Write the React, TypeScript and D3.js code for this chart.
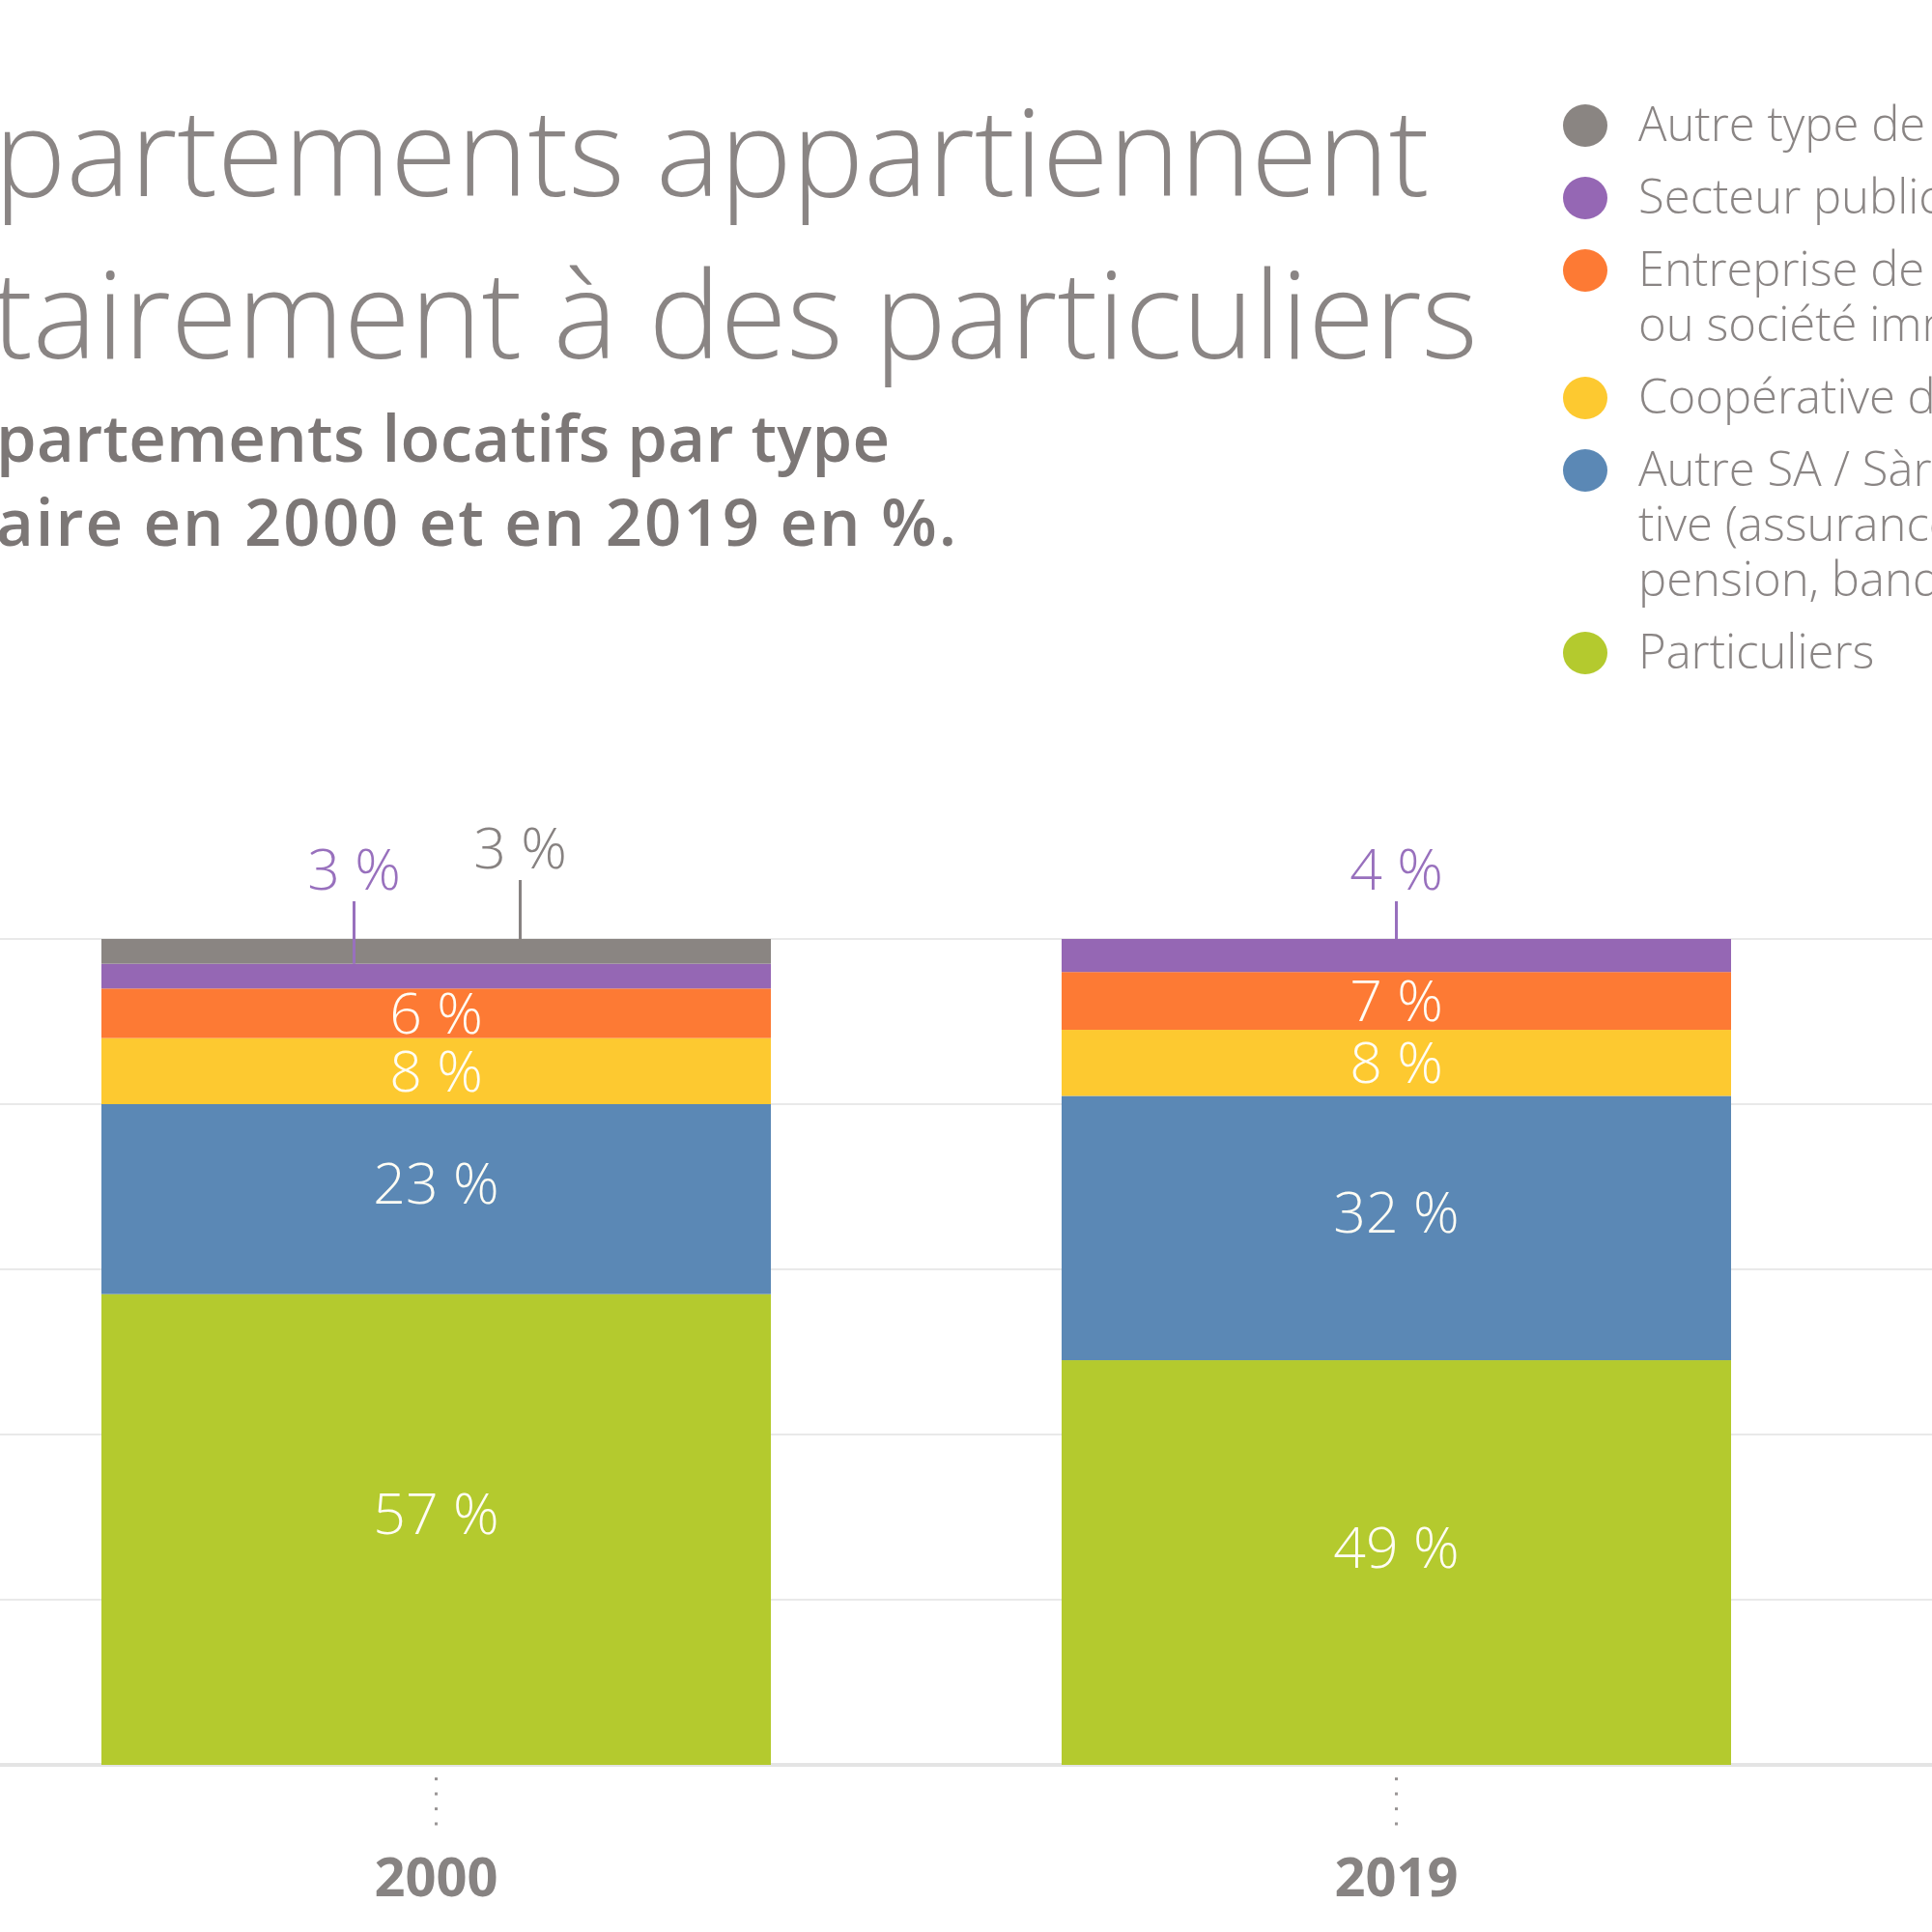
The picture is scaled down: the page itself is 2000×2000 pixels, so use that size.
import * as d3 from 'd3';

// Données (en %), de bas en haut de la pile
const years = ['2000', '2019'];
const particuliers = [57, 49];
const autreSA = [23, 32];
const cooperative = [8, 8];
const entreprise = [6, 7];
const secteurPublic = [3, 4];
const autreType = [3, 0];

const seriesKeys = ['particuliers', 'autreSA', 'cooperative', 'entreprise', 'secteurPublic', 'autreType'];
const seriesColors = ['#b4ca2e', '#5b88b5', '#fdc930', '#fd7a34', '#9567b4', '#8a8582'];
const yTicks = [0, 20, 40, 60, 80, 100];

const titleLines = ['partements appartiennent', 'tairement à des particuliers'];
const subtitleLines = ['partements locatifs par type', 'aire en 2000 et en 2019 en %.'];

const legendItems: { key: string; lines: string[] }[] = [
  { key: 'autreType', lines: ['Autre type de propriétaire'] },
  { key: 'secteurPublic', lines: ['Secteur public'] },
  { key: 'entreprise', lines: ['Entreprise de construction', 'ou société immobilière'] },
  { key: 'cooperative', lines: ['Coopérative de construction'] },
  { key: 'autreSA', lines: ['Autre SA / Sàrl / coopéra-', 'tive (assurance, caisse de', 'pension, banque)'] },
  { key: 'particuliers', lines: ['Particuliers'] },
];

// labels placed above the bar with a leader line
const outsideLabels = [
  { year: '2000', key: 'secteurPublic', dx: -85, baseline: 921, color: '#9870bd' },
  { year: '2000', key: 'autreType', dx: 87, baseline: 899, color: '#878281' },
  { year: '2019', key: 'secteurPublic', dx: 0, baseline: 921, color: '#9870bd' },
];

const W = 2000;
const H = 2000;
const FONT = '"Open Sans", "Noto Sans", sans-serif';
const TEXT_GRAY = '#8a8584';

export default function App() {
  const rows = years.map((year, i) => ({
    year,
    particuliers: particuliers[i],
    autreSA: autreSA[i],
    cooperative: cooperative[i],
    entreprise: entreprise[i],
    secteurPublic: secteurPublic[i],
    autreType: autreType[i],
  }));

  const stacked = d3.stack<any>().keys(seriesKeys)(rows);

  const x = d3.scaleBand().domain(years).range([105, 1792]).paddingInner(0.3028).paddingOuter(0);
  const y = d3.scaleLinear().domain([0, 100]).range([1827, 972]);
  const color = d3.scaleOrdinal<string, string>().domain(seriesKeys).range(seriesColors);

  let legendY = 130;
  const legendRows = legendItems.map((item) => {
    const row = { ...item, y: legendY };
    legendY += 75 + (item.lines.length - 1) * 57;
    return row;
  });

  return (
    <svg
      width={W}
      height={H}
      style={{ position: 'absolute', left: 0, top: 0, background: '#fff' }}
      fontFamily={FONT}
    >
      <rect width={W} height={H} fill="#fff" />

      {/* title */}
      <g fill={TEXT_GRAY} fontWeight={300} fontSize={125}>
        <text x={-6} y={203}>{titleLines[0]}</text>
        <text x={-8} y={371}>{titleLines[1]}</text>
      </g>
      <g fill="#7c7776" fontWeight={600} fontSize={67}>
        <text x={-4} y={478} letterSpacing={0.3}>{subtitleLines[0]}</text>
        <text x={-4} y={565} letterSpacing={2}>{subtitleLines[1]}</text>
      </g>

      {/* legend */}
      <g fontSize={49} fontWeight={300} fill={TEXT_GRAY}>
        {legendRows.map((r) => (
          <g key={r.key}>
            <ellipse cx={1641} cy={r.y} rx={23} ry={22} fill={color(r.key)} />
            {r.lines.map((line, j) => (
              <text key={j} x={1696} y={r.y + 16 + j * 57}>{line}</text>
            ))}
          </g>
        ))}
      </g>

      {/* grid */}
      {yTicks.map((t) => (
        <line
          key={t}
          x1={0}
          x2={W}
          y1={y(t)}
          y2={y(t)}
          stroke={t === 0 ? '#e4e4e4' : '#e9e9e9'}
          strokeWidth={t === 0 ? 4 : 2}
        />
      ))}

      {/* bars */}
      {stacked.map((s) => (
        <g key={s.key} fill={color(s.key)}>
          {s.map((d) => (
            <rect
              key={d.data.year}
              x={x(d.data.year)}
              y={y(d[1])}
              width={x.bandwidth()}
              height={Math.max(0, y(d[0]) - y(d[1]))}
            />
          ))}
        </g>
      ))}

      {/* values inside the bars */}
      <g fill="#fffdf4" fontSize={59} fontWeight={300} textAnchor="middle">
        {stacked.map((s) =>
          s.map((d) => {
            const v = d[1] - d[0];
            if (v < 5) return null;
            const h = y(d[0]) - y(d[1]);
            const mid = (y(d[0]) + y(d[1])) / 2 + 21 - (h > 120 ? 16 : 0);
            return (
              <text key={s.key + d.data.year} x={(x(d.data.year) || 0) + x.bandwidth() / 2} y={mid}>
                {v} %
              </text>
            );
          })
        )}
      </g>

      {/* small values above the bars */}
      {outsideLabels.map((l) => {
        const si = seriesKeys.indexOf(l.key);
        const yi = years.indexOf(l.year);
        const d = stacked[si][yi];
        const cx = (x(l.year) || 0) + x.bandwidth() / 2 + l.dx;
        return (
          <g key={l.year + l.key}>
            <line x1={cx} x2={cx} y1={l.baseline + 12} y2={y(d[1])} stroke={l.color} strokeWidth={3} />
            <text x={cx} y={l.baseline} textAnchor="middle" fontSize={59} fontWeight={300} fill={l.color}>
              {d[1] - d[0]} %
            </text>
          </g>
        );
      })}

      {/* x axis */}
      {years.map((yr) => {
        const cx = (x(yr) || 0) + x.bandwidth() / 2;
        return (
          <g key={yr}>
            <line x1={cx} x2={cx} y1={1840} y2={1893} stroke="#9a9696" strokeWidth={3} strokeDasharray="3 12.5" />
            <text x={cx} y={1963} textAnchor="middle" fontSize={56} fontWeight={700} fill="#878382">
              {yr}
            </text>
          </g>
        );
      })}
    </svg>
  );
}
